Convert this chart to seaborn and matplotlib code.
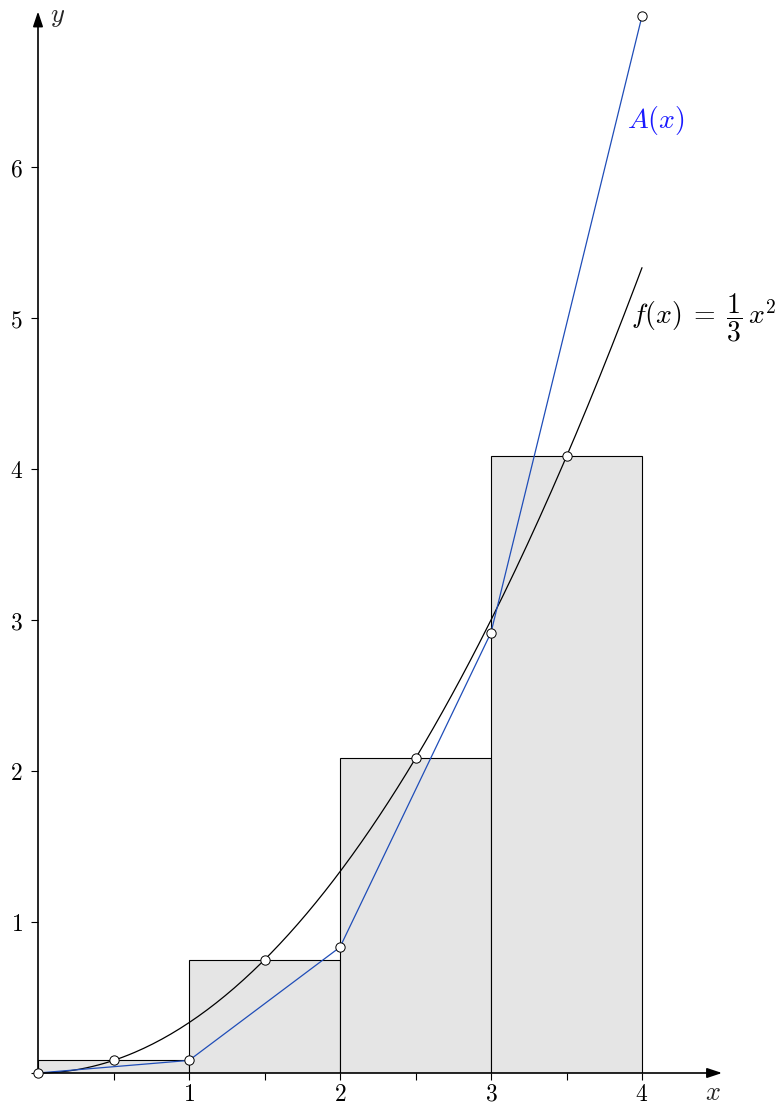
import numpy as np
import pandas as pd
import matplotlib
matplotlib.use("Agg")
import matplotlib.pyplot as plt
import seaborn as sns

# ---- data ----
rect_left = [0, 1, 2, 3]
rect_height = [0.0833, 0.75, 2.0833, 4.0833]
mid_x = [0.5, 1.5, 2.5, 3.5]
mid_y = [0.0833, 0.75, 2.0833, 4.0833]
A_x = [0, 1, 2, 3, 4]
A_y = [0.0, 0.0833, 0.8333, 2.9167, 7.0]
curve_x = np.linspace(0, 4, 201)
curve_y = curve_x ** 2 / 3
x_ticks = [0.5, 1, 1.5, 2, 2.5, 3, 3.5, 4]
x_labels = ["", "1", "", "2", "", "3", "", "4"]
y_ticks = [0, 1, 2, 3, 4, 5, 6]
y_labels = ["", "1", "2", "3", "4", "5", "6"]

sns.set_style("white")
plt.rcParams["mathtext.fontset"] = "cm"
plt.rcParams["font.family"] = ["DejaVu Serif"]

W, H = 781, 1106
fig = plt.figure(figsize=(W / 100, H / 100), dpi=100)
unit = 151.0
x0_px, y0_px = 38, 1073
xmax, ymax = 4.53, 7.03
ax = fig.add_axes([x0_px / W, (H - y0_px) / H, xmax * unit / W, ymax * unit / H])
ax.set_xlim(0, xmax)
ax.set_ylim(0, ymax)

# rectangles
ax.bar(rect_left, rect_height, width=1, align="edge", color="#e5e5e5",
       edgecolor="black", linewidth=0.8, zorder=1)

curve_df = pd.DataFrame({"x": curve_x, "y": curve_y})
sns.lineplot(data=curve_df, x="x", y="y", color="black", linewidth=0.9, ax=ax,
             zorder=3, clip_on=False)
A_df = pd.DataFrame({"x": A_x, "y": A_y})
sns.lineplot(data=A_df, x="x", y="y", color="#1f4db8", linewidth=0.9, ax=ax,
             zorder=3, clip_on=False)

mid_df = pd.DataFrame({"x": mid_x, "y": mid_y})
sns.scatterplot(data=mid_df, x="x", y="y", s=45, color="white", edgecolor="black",
                linewidth=0.7, ax=ax, zorder=5, clip_on=False)
sns.scatterplot(data=A_df, x="x", y="y", s=45, color="white", edgecolor="black",
                linewidth=0.7, ax=ax, zorder=5, clip_on=False)

# axes with arrows
for s in ax.spines.values():
    s.set_visible(False)
ax.annotate("", xy=(xmax, 0), xytext=(-0.02, 0), xycoords="data",
            arrowprops=dict(arrowstyle="-|>,head_length=0.9,head_width=0.3",
                            color="black", lw=1.2, shrinkA=0, shrinkB=0),
            annotation_clip=False, zorder=4)
ax.annotate("", xy=(0, ymax), xytext=(0, -0.02), xycoords="data",
            arrowprops=dict(arrowstyle="-|>,head_length=0.9,head_width=0.3",
                            color="black", lw=1.2, shrinkA=0, shrinkB=0),
            annotation_clip=False, zorder=4)

ax.set_xticks(x_ticks)
ax.set_xticklabels(["$%s$" % l if l else "" for l in x_labels])
ax.set_yticks(y_ticks)
ax.set_yticklabels(["$%s$" % l if l else "" for l in y_labels])
ax.tick_params(axis="both", direction="out", length=5, width=0.8, colors="black",
               labelsize=17, bottom=True, left=True)
ax.tick_params(axis="x", pad=2)
ax.tick_params(axis="y", pad=6)
ax.set_xlabel("")
ax.set_ylabel("")

ax.text(0.08, 7.0, "$y$", fontsize=19, ha="left", va="center")
ax.text(4.47, -0.13, "$x$", fontsize=19, ha="center", va="center")
ax.text(3.9, 6.31, "$A(x)$", fontsize=20, color="#1a1aff", ha="left", va="center")
ax.text(3.93, 5.0, r"$f(x)\;=\;\dfrac{1}{3}\,x^2$", fontsize=20, color="black",
        ha="left", va="center")

fig.savefig("out.png", dpi=100)
